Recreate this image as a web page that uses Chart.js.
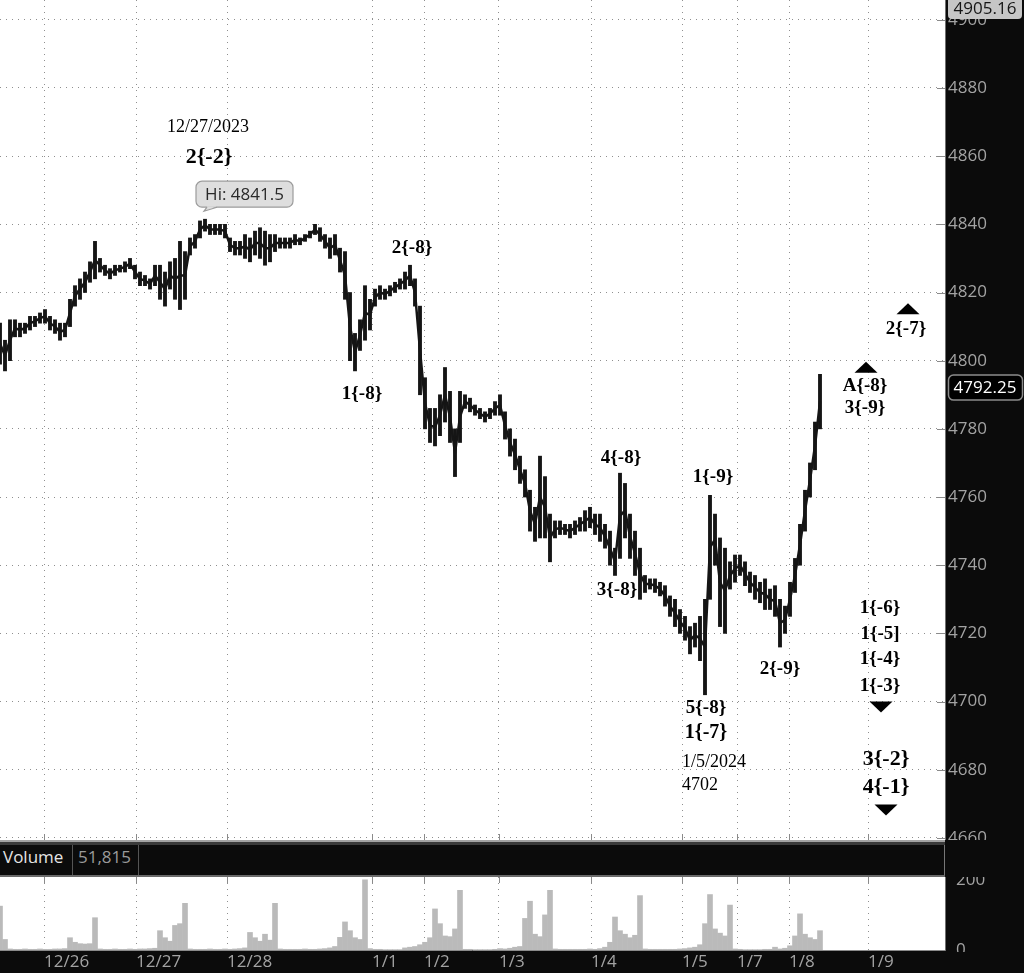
<!DOCTYPE html>
<html>
<head>
<meta charset="utf-8">
<script src="https://cdn.jsdelivr.net/npm/chart.js@4.4.1/dist/chart.umd.min.js"></script>
<style>
  html, body { margin: 0; padding: 0; background: #0b0b0b; }
  #wrap { position: relative; width: 1024px; height: 973px; overflow: hidden; background: #0b0b0b; }
  #priceChart { position: absolute; left: 0; top: 0; }
  #volChart { position: absolute; left: 0; top: 877px; }
  .bar { position: absolute; left: 0; width: 945px; }
  .txt { position: absolute; top: 845px; line-height: 30px; font: 17px "Open Sans", sans-serif; }
  .div { position: absolute; top: 845px; height: 30px; width: 1px; background: #555; }
</style>
</head>
<body>
<div id="wrap">
  <canvas id="priceChart" width="1024" height="840"></canvas>
  <div class="bar" style="top:840px;height:2px;background:#a3a3a3"></div>
  <div class="bar" style="top:842px;height:3px;background:#3a3a3a"></div>
  <div class="bar" style="top:845px;height:30px;background:#0b0b0b;border-right:1px solid #777;box-sizing:border-box"></div>
  <div class="bar" style="top:875px;height:2px;background:#6a6a6a"></div>
  <span class="txt" style="left:3px;color:#e4e4e4">Volume</span>
  <div class="div" style="left:72px"></div>
  <span class="txt" style="left:78px;color:#9a9a9a">51,815</span>
  <div class="div" style="left:138px"></div>
  <canvas id="volChart" width="1024" height="96"></canvas>
</div>
<script>
// price bars, one per time slot (low / high)
const priceLows = [
  4799, 4797, 4800, 4807, 4807, 4808, 4809, 4810, 4811, 4811,
  4809, 4808, 4806, 4807, 4810, 4816, 4818, 4820, 4823, 4824,
  4826, 4825, 4824, 4825, 4826, 4826, 4827, 4824, 4822, 4822,
  4821, 4822, 4818, 4816, 4821, 4818, 4815, 4818, 4831, 4833,
  4836, 4838, 4837, 4837, 4837, 4836, 4832, 4831, 4831, 4830,
  4829, 4831, 4830, 4828, 4829, 4832, 4833, 4833, 4833, 4834,
  4834, 4835, 4836, 4837, 4835, 4833, 4830, 4831, 4826, 4818,
  4800, 4797, 4803, 4806, 4809, 4816, 4818, 4818, 4819, 4820,
  4821, 4821, 4822, 4816, 4790, 4780, 4776, 4775, 4778, 4782,
  4776, 4766, 4776, 4786, 4785, 4784, 4783, 4782, 4783, 4784,
  4784, 4777, 4772, 4768, 4764, 4760, 4750, 4747, 4748, 4748,
  4741, 4748, 4749, 4749, 4748, 4749, 4750, 4750, 4751, 4749,
  4747, 4745, 4740, 4737, 4742, 4748, 4742, 4737, 4730, 4732,
  4733, 4732, 4731, 4728, 4725, 4722, 4720, 4718, 4714, 4716,
  4712, 4702, 4730, 4740, 4722, 4720, 4733, 4735, 4737, 4734,
  4732, 4730, 4729, 4727, 4727, 4725, 4716, 4720, 4725, 4732,
  4740, 4750, 4760, 4768, 4780
];
const priceHighs = [
  4811, 4806, 4812, 4812, 4811, 4811, 4813, 4813, 4814, 4815,
  4813, 4812, 4811, 4811, 4818, 4822, 4824, 4826, 4829, 4835,
  4830, 4828, 4827, 4828, 4828, 4829, 4830, 4828, 4826, 4825,
  4824, 4828, 4828, 4826, 4829, 4830, 4835, 4832, 4836, 4837,
  4841, 4841.5, 4840, 4840, 4840, 4840, 4836, 4835, 4835, 4837,
  4836, 4838, 4839, 4838, 4837, 4837, 4836, 4836, 4836, 4837,
  4836, 4837, 4838, 4840, 4839, 4837, 4836, 4837, 4833, 4832,
  4820, 4808, 4812, 4822, 4818, 4821, 4822, 4821, 4822, 4823,
  4824, 4826, 4828, 4824, 4816, 4795, 4786, 4786, 4790, 4798,
  4791, 4780, 4791, 4790, 4789, 4787, 4786, 4785, 4786, 4788,
  4790, 4785, 4780, 4777, 4772, 4768, 4762, 4757, 4772, 4766,
  4755, 4753, 4753, 4752, 4752, 4753, 4754, 4756, 4757, 4755,
  4755, 4752, 4750, 4745, 4767, 4764, 4755, 4750, 4745, 4737,
  4736, 4736, 4735, 4734, 4731, 4730, 4727, 4725, 4722, 4723,
  4725, 4730, 4760.5, 4755, 4748, 4745, 4741, 4743, 4743, 4741,
  4738, 4737, 4735, 4736, 4733, 4734, 4730, 4728, 4735, 4742,
  4752, 4762, 4770, 4782, 4796
];
const volumes = [
  125, 30, 3, 2, 2, 3, 2, 2, 3, 2,
  2, 3, 3, 4, 35, 22, 18, 17, 18, 92,
  3, 2, 2, 3, 2, 2, 3, 2, 3, 3,
  4, 5, 55, 35, 25, 70, 75, 133, 3, 2,
  2, 2, 3, 2, 2, 3, 2, 3, 4, 6,
  50, 35, 25, 45, 28, 133, 3, 2, 2, 2,
  2, 3, 2, 2, 3, 4, 6, 10, 36, 80,
  55, 35, 30, 200, 4, 2, 2, 1, 1, 1,
  1, 6, 8, 10, 15, 22, 35, 117, 75, 40,
  38, 60, 170, 2, 2, 1, 1, 1, 1, 2,
  4, 3, 5, 8, 10, 90, 139, 45, 38, 100,
  170, 3, 2, 2, 2, 2, 2, 2, 3, 2,
  4, 8, 22, 94, 55, 45, 35, 42, 155, 3,
  2, 2, 2, 2, 2, 2, 3, 4, 6, 8,
  15, 75, 158, 60, 48, 40, 128, 3, 2, 1,
  1, 1, 1, 2, 2, 8, 3, 5, 12, 40,
  103, 45, 35, 30, 55
];
const dayLabels = ['12/26', '12/27', '12/28', '1/1', '1/2', '1/3', '1/4', '1/5', '1/7', '1/8', '1/9'];
const daySlots = [8.8, 27.2, 45.4, 74.4, 84.8, 99.8, 118.2, 136.4, 147.4, 157.8, 173.6];
const priceTicks = [4660, 4680, 4700, 4720, 4740, 4760, 4780, 4800, 4820, 4840, 4860, 4880, 4900];
const volTicks = [0, 200];
const lastPrice = 4792.25;
const rangeTop = 4905.16;
const hiSlot = 41, hiPrice = 4841.5;

// wave labels: text, slot, price, style
const waveNotes = [
  ['12/27/2023', 41.6, 4868.5, 'r'],
  ['2{-2}', 41.8, 4859.7, 'L'],
  ['2{-8}', 82.4, 4833.0, 'b'],
  ['1{-8}', 72.4, 4790.2, 'b'],
  ['4{-8}', 124.2, 4771.5, 'b'],
  ['3{-8}', 123.4, 4732.7, 'b'],
  ['1{-9}', 142.6, 4765.9, 'b'],
  ['5{-8}', 141.2, 4698.1, 'b'],
  ['1{-7}', 141.2, 4690.8, 'm'],
  ['1/5/2024', 142.8, 4682.3, 'r'],
  ['4702', 140, 4675.5, 'r'],
  ['2{-9}', 156, 4709.6, 'b'],
  ['A{-8}', 173, 4792.6, 'b'],
  ['3{-9}', 173, 4786.1, 'b'],
  ['2{-7}', 181.2, 4809.3, 'b'],
  ['1{-6}', 176, 4727.4, 'b'],
  ['1{-5]', 176, 4719.8, 'b'],
  ['1{-4}', 176, 4712.5, 'b'],
  ['1{-3}', 176, 4704.6, 'b'],
  ['3{-2}', 177.2, 4683.2, 'L'],
  ['4{-1}', 177.2, 4674.9, 'L']
];
const markers = [[173.2, 4798.1, 1], [181.6, 4815.2, 1], [176.2, 4698.4, -1], [177.2, 4668.2, -1]];

const noteFonts = {
  r: '18px "Liberation Serif", serif',
  b: 'bold 19px "Liberation Serif", serif',
  m: 'bold 20px "Liberation Serif", serif',
  L: 'bold 22px "Liberation Serif", serif'
};
const slots = priceLows.map((v, i) => i);
const axisFont = { family: '"Open Sans", sans-serif', size: 17 };
const gridStyle = { color: '#8f8f8f', lineWidth: 1, drawTicks: false, offset: false };

// no label overhang padding, fixed right axis width
function rightAxisFit(axis) { axis.width = 79; axis.paddingTop = 0; axis.paddingBottom = 0; }
function bottomAxisFit(h) {
  return axis => { axis.height = h; axis.paddingLeft = 0; axis.paddingRight = 0; };
}

const priceDecor = {
  id: 'priceDecor',
  beforeDraw(chart) {
    const { ctx, chartArea: a } = chart;
    ctx.save();
    ctx.fillStyle = '#ffffff';
    ctx.fillRect(a.left, a.top, a.right - a.left, a.bottom - a.top);
    ctx.restore();
  },
  afterDraw(chart) {
    const { ctx, chartArea: a, scales: { x, y } } = chart;
    ctx.save();
    ctx.strokeStyle = '#8a8a8a';
    ctx.lineWidth = 1;
    ctx.beginPath();
    x.ticks.forEach(t => {
      const px = Math.round(x.getPixelForValue(t.value)) + 0.5;
      ctx.moveTo(px, a.bottom - 6); ctx.lineTo(px, a.bottom);
    });
    y.ticks.forEach(t => {
      const py = Math.round(y.getPixelForValue(t.value)) + 0.5;
      ctx.moveTo(a.right - 8, py); ctx.lineTo(a.right, py);
    });
    ctx.stroke();
    ctx.strokeStyle = '#707070';
    ctx.beginPath();
    ctx.moveTo(a.right + 0.5, 0); ctx.lineTo(a.right + 0.5, chart.height);
    ctx.stroke();

    // wave labels
    ctx.fillStyle = '#000';
    ctx.textAlign = 'center';
    ctx.textBaseline = 'middle';
    waveNotes.forEach(([t, s, p, f]) => {
      ctx.font = noteFonts[f];
      ctx.fillText(t, x.getPixelForValue(s), y.getPixelForValue(p));
    });
    markers.forEach(([s, p, dir]) => {
      const cx = x.getPixelForValue(s), cy = y.getPixelForValue(p);
      ctx.beginPath();
      ctx.moveTo(cx - 11.5, cy + 5.5 * dir);
      ctx.lineTo(cx + 11.5, cy + 5.5 * dir);
      ctx.lineTo(cx, cy - 5.5 * dir);
      ctx.closePath();
      ctx.fill();
    });

    // Hi callout
    const hx = x.getPixelForValue(hiSlot), hy = y.getPixelForValue(hiPrice);
    const bx = hx - 9, by = hy - 38, bw = 97, bh = 26;
    ctx.fillStyle = '#dedede';
    ctx.strokeStyle = '#9c9c9c';
    ctx.lineWidth = 1.2;
    ctx.beginPath();
    ctx.roundRect(bx, by, bw, bh, 6);
    ctx.fill(); ctx.stroke();
    ctx.beginPath();
    ctx.moveTo(hx + 2, by + bh - 1);
    ctx.lineTo(hx - 1, hy - 8);
    ctx.lineTo(hx + 12, by + bh - 1);
    ctx.closePath();
    ctx.fill();
    ctx.beginPath();
    ctx.moveTo(hx + 2, by + bh); ctx.lineTo(hx - 1, hy - 8); ctx.lineTo(hx + 12, by + bh);
    ctx.stroke();
    ctx.fillStyle = '#2a2a2a';
    ctx.font = '17px "Open Sans", sans-serif';
    ctx.fillText('Hi: ' + hiPrice, bx + bw / 2, by + bh / 2 + 1);

    // axis value boxes
    ctx.fillStyle = '#c6c6c6';
    ctx.beginPath();
    ctx.roundRect(a.right + 3, -4, 74, 23, 4);
    ctx.fill();
    ctx.fillStyle = '#151515';
    ctx.fillText(rangeTop.toFixed(2), a.right + 40, 9);

    const ly = y.getPixelForValue(lastPrice);
    ctx.fillStyle = '#000';
    ctx.strokeStyle = '#8c8c8c';
    ctx.lineWidth = 1.5;
    ctx.beginPath();
    ctx.roundRect(a.right + 3.5, ly - 12, 74, 25, 5);
    ctx.fill(); ctx.stroke();
    ctx.fillStyle = '#ffffff';
    ctx.fillText(lastPrice.toFixed(2), a.right + 40, ly + 1);
    ctx.restore();
  }
};

const volDecor = {
  id: 'volDecor',
  beforeDraw: priceDecor.beforeDraw,
  afterDraw(chart) {
    const { ctx, chartArea: a, scales: { x } } = chart;
    ctx.save();
    ctx.strokeStyle = '#8a8a8a';
    ctx.lineWidth = 1;
    ctx.beginPath();
    x.ticks.forEach(t => {
      const px = Math.round(x.getPixelForValue(t.value)) + 0.5;
      ctx.moveTo(px, a.top); ctx.lineTo(px, a.top + 6);
    });
    ctx.moveTo(a.left, a.bottom + 0.5); ctx.lineTo(a.right, a.bottom + 0.5);
    ctx.stroke();
    ctx.fillStyle = '#0b0b0b';
    ctx.fillRect(a.right + 1, a.bottom + 2, chart.width - a.right, chart.height - a.bottom);
    ctx.strokeStyle = '#707070';
    ctx.beginPath();
    ctx.moveTo(a.right + 0.5, 0); ctx.lineTo(a.right + 0.5, a.bottom + 1);
    ctx.stroke();
    ctx.translate(1027, 40);
    ctx.rotate(Math.PI / 2);
    ctx.fillStyle = '#9a9a9a';
    ctx.font = '15px "Open Sans", sans-serif';
    ctx.textAlign = 'center';
    ctx.fillText('shares', 0, 0);
    ctx.restore();
  }
};

new Chart(document.getElementById('priceChart'), {
  type: 'bar',
  data: {
    datasets: [{
      type: 'line',
      data: slots.map(i => ({ x: i, y: (priceLows[i] + priceHighs[i]) / 2 })),
      borderColor: '#151515',
      borderWidth: 2.5,
      pointRadius: 0,
      tension: 0
    }, {
      data: slots.map(i => ({ x: i, y: [priceLows[i], priceHighs[i]] })),
      backgroundColor: '#151515',
      borderWidth: 0,
      barThickness: 3.2
    }]
  },
  options: {
    responsive: false,
    devicePixelRatio: 1,
    animation: false,
    layout: { padding: 0 },
    plugins: { legend: { display: false }, tooltip: { enabled: false } },
    scales: {
      x: {
        type: 'linear', min: 0, max: 189, offset: false,
        grid: gridStyle,
        border: { display: false, dash: [1, 5] },
        ticks: { display: false },
        afterBuildTicks: s => { s.ticks = daySlots.map(v => ({ value: v })); },
        afterFit: bottomAxisFit(0)
      },
      y: {
        position: 'right', min: 4659.4, max: 4905.8, beginAtZero: false,
        grid: gridStyle,
        border: { display: false, dash: [1, 5] },
        ticks: { color: '#a3a3a3', font: axisFont, padding: 3, callback: v => String(v) },
        afterBuildTicks: s => { s.ticks = priceTicks.map(v => ({ value: v })); },
        afterFit: rightAxisFit
      }
    }
  },
  plugins: [priceDecor]
});

new Chart(document.getElementById('volChart'), {
  type: 'bar',
  data: {
    datasets: [{
      data: slots.map(i => ({ x: i, y: volumes[i] })),
      backgroundColor: '#bababa',
      borderWidth: 0,
      barPercentage: 1,
      categoryPercentage: 1
    }]
  },
  options: {
    responsive: false,
    devicePixelRatio: 1,
    animation: false,
    layout: { padding: 0 },
    plugins: { legend: { display: false }, tooltip: { enabled: false } },
    scales: {
      x: {
        type: 'linear', min: 0, max: 189, offset: false,
        grid: gridStyle,
        border: { display: false, dash: [1, 5] },
        ticks: {
          color: '#a3a3a3', font: axisFont, align: 'start', padding: 2,
          autoSkip: false, maxRotation: 0,
          callback: (v, i) => dayLabels[i]
        },
        afterBuildTicks: s => { s.ticks = daySlots.map(v => ({ value: v })); },
        afterFit: bottomAxisFit(23)
      },
      y: {
        position: 'right', min: 0, max: 208, beginAtZero: true,
        grid: { display: false },
        border: { display: false },
        ticks: { color: '#a3a3a3', font: axisFont, padding: 3, callback: v => String(v) },
        afterBuildTicks: s => { s.ticks = volTicks.map(v => ({ value: v })); },
        afterFit: rightAxisFit
      }
    }
  },
  plugins: [volDecor]
});
</script>
</body>
</html>
